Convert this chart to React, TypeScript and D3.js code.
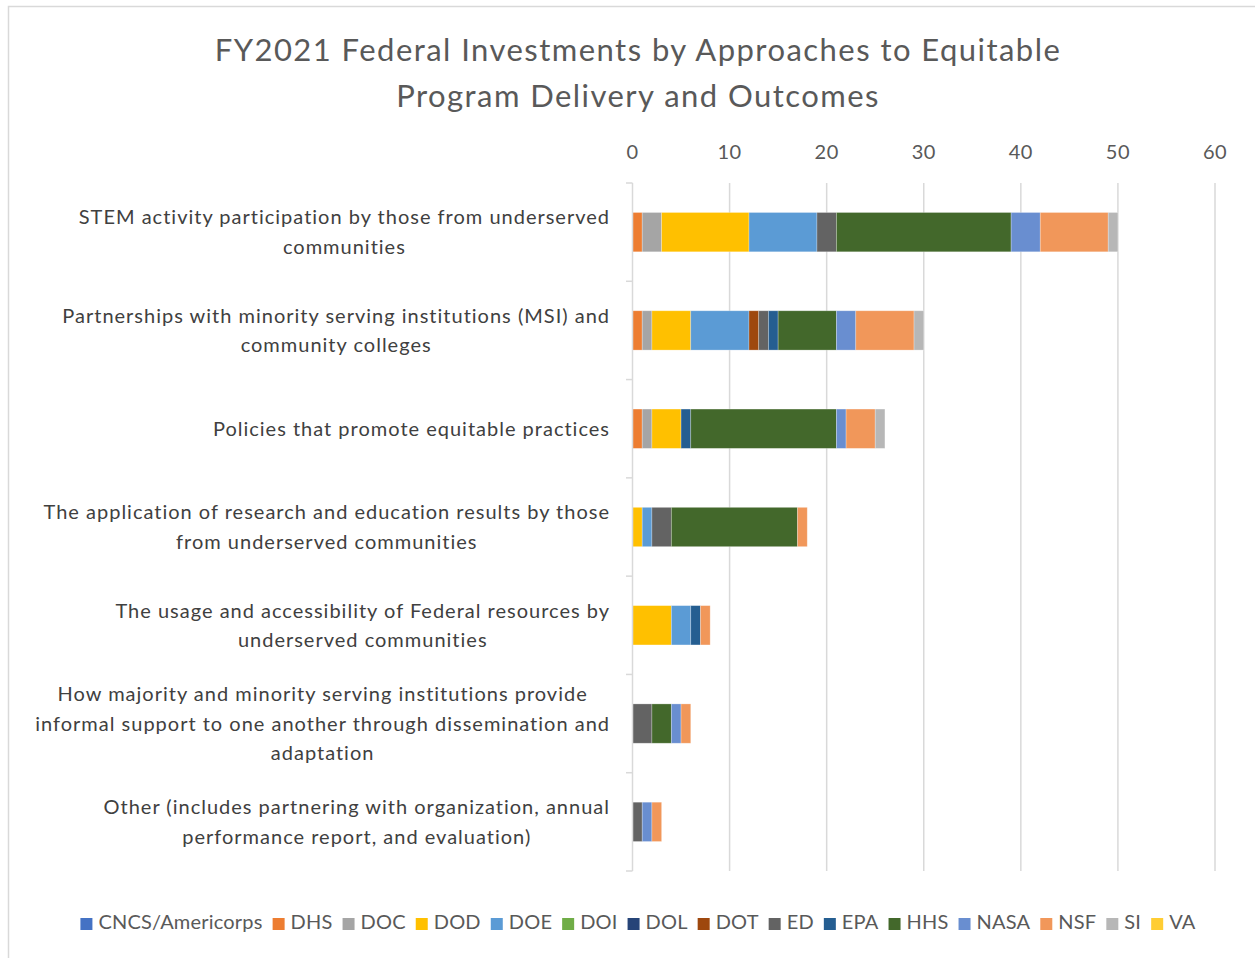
import React, { useEffect, useRef } from "react";
import * as d3 from "d3";

const categories: string[][] = [
  ["STEM activity participation by those from underserved", "communities"],
  ["Partnerships with minority serving institutions (MSI) and", "community colleges"],
  ["Policies that promote equitable practices"],
  ["The application of research and education results by those", "from underserved communities"],
  ["The usage and accessibility of Federal resources by", "underserved communities"],
  ["How majority and minority serving institutions provide", "informal support to one another through dissemination and", "adaptation"],
  ["Other (includes partnering with organization, annual", "performance report, and evaluation)"],
];

const agencies = ["CNCS/Americorps", "DHS", "DOC", "DOD", "DOE", "DOI", "DOL", "DOT", "ED", "EPA", "HHS", "NASA", "NSF", "SI", "VA"];
const agencyColors = ["#4472C4", "#ED7D31", "#A5A5A5", "#FFC000", "#5B9BD5", "#70AD47", "#264478", "#9E480E", "#636363", "#255E91", "#43682B", "#698ED0", "#F1975A", "#B7B7B7", "#FFCD33"];

// values per category, in agency order
const CNCS = [0, 0, 0, 0, 0, 0, 0];
const DHS = [1, 1, 1, 0, 0, 0, 0];
const DOC = [2, 1, 1, 0, 0, 0, 0];
const DOD = [9, 4, 3, 1, 4, 0, 0];
const DOE = [7, 6, 0, 1, 2, 0, 0];
const DOI = [0, 0, 0, 0, 0, 0, 0];
const DOL = [0, 0, 0, 0, 0, 0, 0];
const DOT = [0, 1, 0, 0, 0, 0, 0];
const ED = [2, 1, 0, 2, 0, 2, 1];
const EPA = [0, 1, 1, 0, 1, 0, 0];
const HHS = [18, 6, 15, 13, 0, 2, 0];
const NASA = [3, 2, 1, 0, 0, 1, 1];
const NSF = [7, 6, 3, 1, 1, 1, 1];
const SI = [1, 1, 1, 0, 0, 0, 0];
const VA = [0, 0, 0, 0, 0, 0, 0];
const seriesValues = [CNCS, DHS, DOC, DOD, DOE, DOI, DOL, DOT, ED, EPA, HHS, NASA, NSF, SI, VA];

const xTicks = [0, 10, 20, 30, 40, 50, 60];
const titleLines = ["FY2021 Federal Investments by Approaches to Equitable", "Program Delivery and Outcomes"];

const FONT = "Lato, 'Noto Sans', sans-serif";

export default function App() {
  const ref = useRef<SVGSVGElement>(null);
  useEffect(() => {
    const svg = d3.select(ref.current);
    svg.selectAll("*").remove();
    const W = 1255, H = 958;

    svg.append("rect").attr("x", 8.5).attr("y", 6.5).attr("width", W + 10).attr("height", H + 10)
      .attr("fill", "#fff").attr("stroke", "#D9D9D9").attr("stroke-width", 1.5);

    const x = d3.scaleLinear().domain([0, 60]).range([632.5, 1215]);
    const idx = categories.map((_, i) => i);
    const y = d3.scaleBand<number>().domain(idx).range([183, 871]).paddingInner(0.6).paddingOuter(0.3);
    const step = y.step();
    const top = 183, bottom = 871;

    // title
    svg.append("g").selectAll("text").data(titleLines).join("text")
      .attr("x", 638).attr("y", (_, i) => 61 + i * 46)
      .attr("text-anchor", "middle").attr("font-family", FONT).attr("font-size", 31)
      .attr("letter-spacing", 1.45)
      .attr("fill", "#595959").text(d => d);

    // gridlines
    svg.append("g").selectAll("line").data(xTicks.slice(1)).join("line")
      .attr("x1", d => x(d)).attr("x2", d => x(d)).attr("y1", top).attr("y2", bottom)
      .attr("stroke", "#D9D9D9").attr("stroke-width", 1.5);

    // tick labels
    svg.append("g").selectAll("text").data(xTicks).join("text")
      .attr("x", d => x(d)).attr("y", 159).attr("text-anchor", "middle")
      .attr("font-family", FONT).attr("font-size", 20).attr("letter-spacing", 0.5)
      .attr("fill", "#595959").text(d => d);

    // bars
    const stackData = idx.map(i => {
      const o: any = { i };
      agencies.forEach((a, k) => { o[a] = seriesValues[k][i]; });
      return o;
    });
    const stack = d3.stack<any>().keys(agencies)(stackData);
    const g = svg.append("g");
    stack.forEach((layer, k) => {
      g.append("g").attr("fill", agencyColors[k]).selectAll("rect")
        .data(layer.filter(d => d[1] - d[0] > 0)).join("rect")
        .attr("x", d => x(d[0])).attr("width", d => x(d[1]) - x(d[0]))
        .attr("y", d => y(d.data.i)!).attr("height", y.bandwidth())
        .attr("stroke", "#fff").attr("stroke-opacity", 0.35).attr("stroke-width", 0.75);
    });

    // axis line and ticks
    svg.append("line").attr("x1", 632.5).attr("x2", 632.5).attr("y1", top).attr("y2", bottom)
      .attr("stroke", "#D9D9D9").attr("stroke-width", 1.5);
    const boundaries = d3.range(categories.length + 1).map(i => top + i * step);
    svg.append("g").selectAll("line").data(boundaries).join("line")
      .attr("x1", 626).attr("x2", 632.5).attr("y1", d => d).attr("y2", d => d)
      .attr("stroke", "#D9D9D9").attr("stroke-width", 1.5);

    // category labels (wrapped lines centred within the block, block right-aligned)
    const lh = 29.5;
    const cl = svg.append("g");
    categories.forEach((lines, i) => {
      const cy = y(i)! + y.bandwidth() / 2;
      const n = lines.length;
      const t = cl.append("text").attr("text-anchor", "middle").attr("font-family", FONT).attr("font-size", 20)
        .attr("letter-spacing", 1.0).attr("fill", "#404040");
      const spans = t.selectAll("tspan").data(lines).join("tspan")
        .attr("y", (_, j) => cy + (j - (n - 1) / 2) * lh + 7).text(d => d);
      let maxW = 0;
      spans.each(function () {
        maxW = Math.max(maxW, (this as SVGTSpanElement).getComputedTextLength());
      });
      spans.attr("x", 610 - maxW / 2);
    });

    // legend
    const lg = svg.append("g");
    const items = agencies.map((a, k) => {
      const it = lg.append("g");
      it.append("rect").attr("width", 12).attr("height", 12).attr("y", -11).attr("fill", agencyColors[k]);
      const t = it.append("text").attr("x", 18).attr("font-family", FONT).attr("font-size", 20)
        .attr("letter-spacing", 0.2).attr("fill", "#595959").text(a);
      const w = (t.node() as SVGTextElement).getComputedTextLength();
      return { it, w: 18 + w };
    });
    const gap = 10;
    const total = d3.sum(items, d => d.w) + gap * (items.length - 1);
    let cx = 638 - total / 2;
    items.forEach(d => { d.it.attr("transform", `translate(${cx},929)`); cx += d.w + gap; });
  }, []);
  return (
    <svg ref={ref} width={1255} height={958}
      style={{ position: "absolute", left: 0, top: 0, display: "block" }} />
  );
}
